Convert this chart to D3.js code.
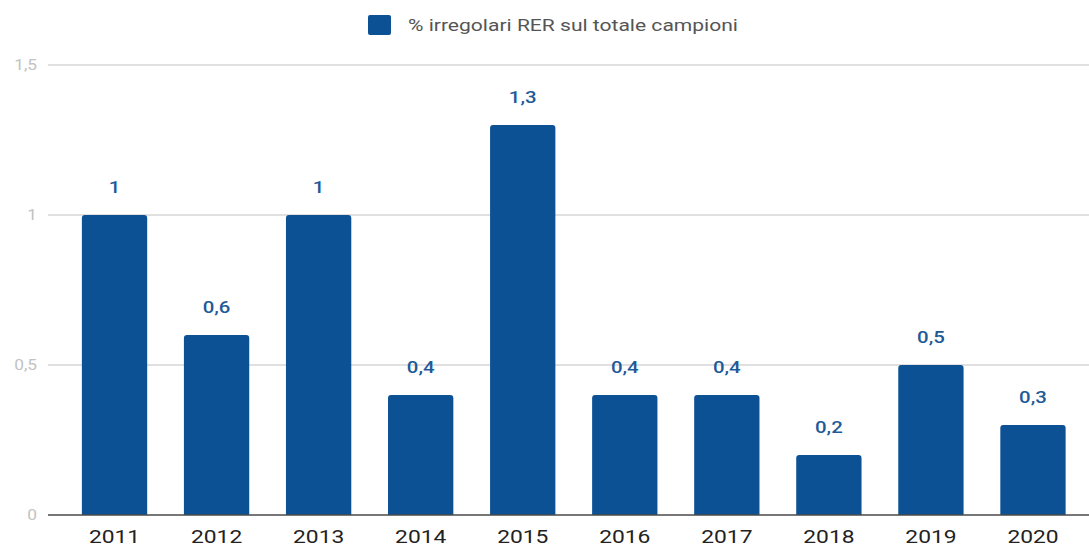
<!DOCTYPE html>
<html><head><meta charset="utf-8">
<script src="https://cdn.jsdelivr.net/npm/d3@7"></script>
<style>
html,body{margin:0;padding:0;background:#fff;overflow:hidden}
text{font-family:Roboto,"Open Sans",sans-serif}
</style></head>
<body><svg id="c" width="1089" height="546"></svg>
<script>
const categories = ["2011","2012","2013","2014","2015","2016","2017","2018","2019","2020"];
const values = [1, 0.6, 1, 0.4, 1.3, 0.4, 0.4, 0.2, 0.5, 0.3];
const valueLabels = ["1","0,6","1","0,4","1,3","0,4","0,4","0,2","0,5","0,3"];
const yTicks = [0, 0.5, 1, 1.5];
const yTickLabels = ["0","0,5","1","1,5"];
const seriesName = "% irregolari RER sul totale campioni";

const svg = d3.select("#c");
const barColor = "#0d5195";
const x = d3.scaleBand().domain(categories).range([63.5, 1084]).paddingInner(0.36).paddingOuter(0.18);
const y = d3.scaleLinear().domain([0, 1.5]).range([515, 65]);
const gridX0 = 48, gridX1 = 1089;
const sx = 1.2; // horizontal stretch of the reference text

// grid
svg.append("g").selectAll("line").data(yTicks.filter(d => d > 0)).join("line")
  .attr("x1", gridX0).attr("x2", gridX1)
  .attr("y1", d => y(d)).attr("y2", d => y(d))
  .attr("stroke", "#d6d6d6").attr("stroke-width", 1.3);

// y labels
svg.append("g").selectAll("text").data(yTicks).join("text")
  .attr("transform", d => `translate(37,${y(d)}) scale(1.15,1)`).attr("dy", "0.35em")
  .attr("text-anchor", "end").attr("fill", "#c2c2c2").attr("font-size", 15)
  .text((d, i) => yTickLabels[i]);

// bars with rounded top corners
const r = 3;
svg.append("g").selectAll("path").data(values).join("path")
  .attr("fill", barColor)
  .attr("d", (d, i) => {
    const x0 = x(categories[i]), w = x.bandwidth(), y0 = y(d), yb = y(0);
    return `M${x0},${yb}V${y0 + r}Q${x0},${y0} ${x0 + r},${y0}H${x0 + w - r}Q${x0 + w},${y0} ${x0 + w},${y0 + r}V${yb}Z`;
  });

// baseline
svg.append("line").attr("x1", gridX0).attr("x2", gridX1)
  .attr("y1", y(0)).attr("y2", y(0)).attr("stroke", "#4a4a4a").attr("stroke-width", 1.5);

// value labels
svg.append("g").selectAll("text").data(values).join("text")
  .attr("transform", (d, i) => `translate(${x(categories[i]) + x.bandwidth() / 2},${y(d) - 28}) scale(${sx},1)`)
  .attr("dy", "0.35em")
  .attr("text-anchor", "middle").attr("fill", "#1d5a98").attr("font-size", 17).attr("font-weight", 500)
  .text((d, i) => valueLabels[i]);

// x labels
const xAxis = d3.axisBottom(x).tickSize(0).tickPadding(0);
const gx = svg.append("g").attr("transform", `translate(0,${y(0)})`).call(xAxis);
gx.select(".domain").remove();
gx.selectAll("text").attr("y", 0).attr("dy", 0).attr("transform", `translate(0,27.5) scale(${sx},1)`)
  .attr("fill", "#222").attr("font-size", 19)
  .style("font-family", "Roboto,sans-serif");
gx.selectAll(".tick").each(function(d) {
  d3.select(this).attr("transform", `translate(${x(d) + x.bandwidth() / 2},0)`);
});

// legend
svg.append("rect").attr("x", 368).attr("y", 15).attr("width", 23).attr("height", 20).attr("rx", 2).attr("fill", barColor);
svg.append("text").attr("transform", "translate(408,25) scale(1.24,1)").attr("dy", "0.35em")
  .attr("fill", "#555").attr("font-size", 17).text(seriesName);
</script></body></html>
